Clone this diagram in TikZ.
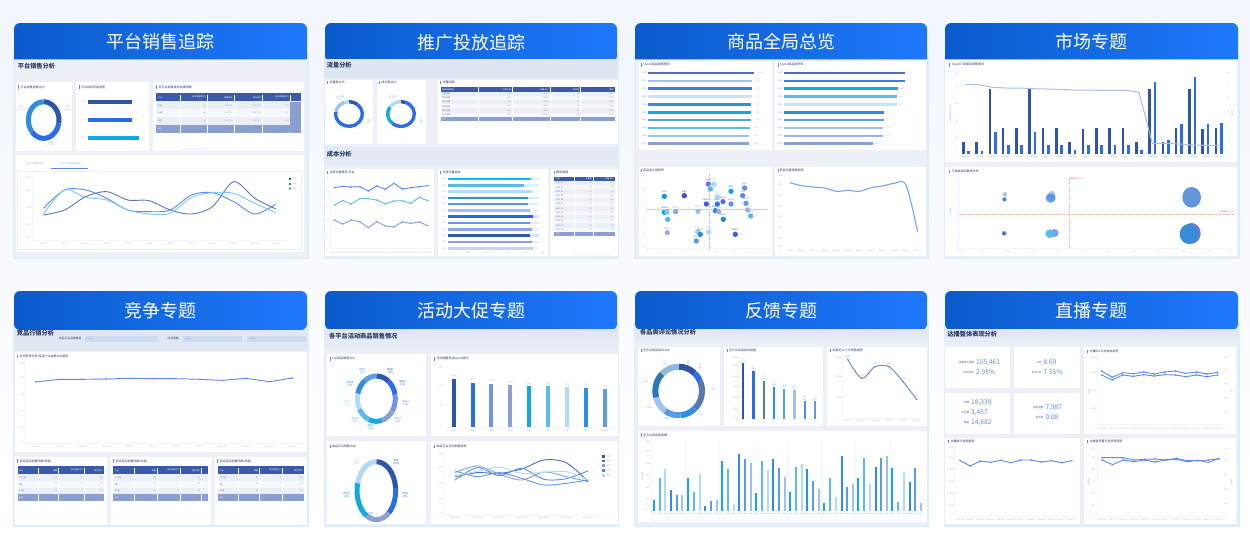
\documentclass[tikz,border=0pt]{standalone}
\usepackage{fontspec}
\setmainfont{Noto Sans CJK SC}
\usetikzlibrary{positioning,calc}
\definecolor{cDark}{HTML}{2F55A8}
\definecolor{cBlue}{HTML}{2A6DE8}
\definecolor{cPeri}{HTML}{6F92EC}
\definecolor{cGrey}{HTML}{8B9FD0}
\definecolor{cCyan}{HTML}{14A8E0}
\definecolor{cSky}{HTML}{5BBCEC}
\definecolor{cPale}{HTML}{B0DAF5}
\definecolor{cAzure}{HTML}{2E8FE0}
\definecolor{cSoft}{HTML}{5C9BE8}
\definecolor{cLav}{HTML}{A0C0EE}
\definecolor{cSteel}{HTML}{5C78A8}
\definecolor{cDeep}{HTML}{2A78B8}
\definecolor{cMist}{HTML}{8FB8D8}
\definecolor{cTrend}{HTML}{7090B8}
\definecolor{cInk}{HTML}{2C3A63}
\definecolor{cTick}{HTML}{A7B3CC}
\definecolor{cPanel}{HTML}{EDF1F7}
\definecolor{cTop}{HTML}{DFE6F2}
\definecolor{cEdge}{HTML}{EAEEF5}
\definecolor{cRule}{HTML}{F3F5FA}
\definecolor{cGlow}{HTML}{DCEEFB}
\definecolor{cHeadL}{HTML}{0A5BCB}
\definecolor{cHeadR}{HTML}{1F78FB}
\definecolor{cRowA}{HTML}{EBEFF7}
\definecolor{cRowB}{HTML}{F6F8FC}
\definecolor{cMeta}{HTML}{3A5BA8}
\definecolor{cSum}{HTML}{8B9FD0}
\definecolor{cLine}{HTML}{5C8AF0}
\definecolor{cGuide}{HTML}{A9BFF5}
\definecolor{cRedline}{HTML}{F9B4B4}
\definecolor{cBgA}{HTML}{F2F6FD}
\definecolor{cBgB}{HTML}{F7FAFF}
\tikzset{
  zoomview/.style={xscale=0.33333,yscale=0.33333},
  cardhead/.style={font=\fontsize{18}{20}\selectfont,text=white},
  sectitle/.style={font=\fontsize{6.2}{7}\selectfont\bfseries,text=cInk,anchor=west,inner sep=0},
  boxtitle/.style={font=\fontsize{3}{4}\selectfont,text=cInk,anchor=west,inner sep=0},
  ticktxt/.style={font=\fontsize{2}{2.6}\selectfont,text=cTick,inner sep=0,align=center},
  whitebox/.style={fill=white},
  kpi/.style={font=\fontsize{6.6}{8}\selectfont,text=cLine,inner sep=0,anchor=west},
  kpiname/.style={font=\fontsize{2.6}{3}\selectfont,text=cInk!80,inner sep=0,anchor=east},
}
\newcounter{lblc}
\newcommand{\lbl}[4][]{\stepcounter{lblc}\node[ticktxt,#1] (lbl\thelblc) at ({#2},{#3}) {#4};}
\newcommand{\boxtl}[3]{\fill[cLine] (#1,#2-5) rectangle (#1+2,#2+5);\stepcounter{lblc}\node[boxtitle] (lbl\thelblc) at (#1+6,#2) {#3};}
\newcommand{\sectl}[3]{\stepcounter{lblc}\node[sectitle] (lbl\thelblc) at (#1,#2) {#3};}
\newcommand{\wbox}[5][whitebox]{\fill[#1] (#2,#3) rectangle (#4,#5);}
\newcommand{\lbox}[4]{\fill[cEdge] (#1-3,#2-3) rectangle (#3+3,#4+3);\fill[white] (#1,#2) rectangle (#3,#4);}
\newcommand{\axv}[3]{\fill[cRule] (#1-1,#2) rectangle (#1+1,#3);}
\newcommand{\axh}[3]{\fill[cRule] (#2,#1-1) rectangle (#3,#1+1);}
% card frame: x1 x2 top bottom headbottom title
\newcommand{\cardflat}[6]{
  \fill[cGlow] (#1-1.5,#5-4) rectangle (#2+1.5,#4+1.5);
  \fill[cPanel] (#1,#5-4) rectangle (#2,#4);
  \shade[left color=cHeadL,right color=cHeadR] (#1,#5) [rounded corners=6pt] -- (#1,#3) -- (#2,#3) [sharp corners] -- (#2,#5) -- cycle;
  \stepcounter{lblc}\node[cardhead] (head\thelblc) at ({(#1+#2)/2},{(#3+#5)/2}) {#6};
}
\newcommand{\cardround}[6]{
  \fill[cGlow] (#1-1.5,#5-8) rectangle (#2+1.5,#4+1.5);
  \fill[cPanel] (#1,#5-8) rectangle (#2,#4);
  \shade[left color=cHeadL,right color=cHeadR,rounded corners=6pt] (#1,#3) rectangle (#2,#5);
  \stepcounter{lblc}\node[cardhead] (head\thelblc) at ({(#1+#2)/2},{(#3+#5)/2}) {#6};
}
% ring: cx cy rx ry width start/end/colour list
\newcommand{\ring}[6]{
  \foreach \a/\b/\c in {#6}{
    \draw[line width=#5pt,\c] ({#1+#3*cos(\a)},{#2+#4*sin(\a)}) arc[start angle=\a,end angle=\b,x radius=#3,y radius=#4];
  }
}
\newcommand{\serie}[4]{
  \gdef\pts{}
  \foreach \yy [count=\i from 0] in {#3}{\pgfmathsetmacro\xx{#1+#2*\i}\xdef\pts{\pts (\xx,\yy)}}
  \edef\tmpcmd{\noexpand\draw[line width=0.9pt,#4] plot coordinates {\pts};}\tmpcmd
}
\newcommand{\vbars}[3]{\foreach \x/\t/\c in {#3}{\fill[\c] ({\x-#1/2},\t) rectangle ({\x+#1/2},#2);}}
\newcommand{\hbars}[3]{\foreach \y/\e/\c in {#3}{\fill[\c] (#1,{\y-#2/2}) rectangle (\e,{\y+#2/2});}}
\newcommand{\monthlist}{01,02,03,04,05,06,07,08,09,10,11,12}
\newcommand{\xmonths}[3]{\foreach \m [count=\i from 0] in \monthlist {\lbl{#1+#2*\i}{#3}{2021-\m}}}
\newcommand{\yvals}[2]{\foreach \y/\t in {#2}{\lbl{#1}{\y}{\t}}}
% table: x1 x2 ytop headh rowh rownames firsthead
\newcommand{\datatable}[7]{
  \fill[cMeta] (#1,#3) rectangle (#2,#3+#4);
  \lbl[text=white,anchor=west]{#1+4}{#3+#4/2}{#7}
  \foreach \r [count=\i from 0] in {#6}{
    \pgfmathsetmacro\ya{#3+#4+#5*\i}
    \pgfmathsetmacro\yb{\ya+#5}
    \pgfmathparse{int(mod(\i,2))}
    \ifnum\pgfmathresult=0 \fill[cRowA] (#1,\ya) rectangle (#2,\yb); \else \fill[cRowB] (#1,\ya) rectangle (#2,\yb); \fi
    \lbl[text=cInk!70,anchor=west]{#1+4}{(\ya+\yb)/2}{\r}
    \xdef\sumtop{\yb}
  }
  \fill[cSum] (#1,\sumtop) rectangle (#2,\sumtop+#5);
  \lbl[text=white,anchor=west]{#1+4}{\sumtop+#5/2}{合计}
}
\newcommand{\tcols}[5]{
  \foreach \x/\h/\v in {#1}{
    \fill[white] (\x-0.8,#2-8) rectangle (\x+0.8,#3+#4*#5);
    \lbl[text=white,anchor=east]{\x-4}{#2}{\h}
    \foreach \k in {1,...,#5}{\lbl[text=cInk!60,anchor=east]{\x-4}{#3+#4*(\k-1)}{\v}}
  }
}
\begin{document}
\begin{tikzpicture}[x=1pt,y=-1pt]
\useasboundingbox (0,0) rectangle (1250,539);
\shade[top color=cBgA,middle color=cBgB,bottom color=white] (0,0) rectangle (1250,539);

\cardflat{14}{307}{23}{257}{59.3}{平台销售追踪}
\cardround{325}{617}{23}{257}{61.7}{推广投放追踪}
\cardflat{635}{927}{23}{257}{59.3}{商品全局总览}
\cardflat{945}{1238}{23}{257}{59.3}{市场专题}
\cardround{14}{307}{291}{525}{330}{竞争专题}
\cardround{325}{617}{291}{525}{330}{活动大促专题}
\cardround{635}{927}{291}{525}{330}{反馈专题}
\cardround{945}{1238}{291}{525}{330}{直播专题}

% card 1
\begin{scope}[shift={(0,10)},zoomview]
\sectl{53}{168}{平台销售分析}
\wbox{47}{217}{216}{423}
\wbox{227}{217}{448}{423}
\wbox{459}{217}{912}{423}
\wbox{47}{435}{912}{727}
\boxtl{55}{231}{平台销售金额占比}
\boxtl{237}{231}{平台目标完成进度}
\boxtl{469}{231}{各平台销售目标完成明细}
\ring{131}{330}{46}{55}{5}{-90/10/cDark,10/140/cBlue,140/270/cAzure}
\lbl{202}{294}{京东\\33.24\%}
\lbl{152}{401}{天猫\\33.35\%}
\lbl{65}{294}{淘宝\\33.30\%}
\hbars{263}{12}{275/396/cDark,330/396/cBlue,385/418/cCyan}
\foreach \y/\q/\p/\v in {275/Q1/406/95\%,330/Q2/406/96\%,385/Q3/428/96\%}{\lbl{252}{\y}{\q}\lbl{\p}{\y}{\v}}
\datatable{469}{903}{250}{24}{23.5}{京东,天猫,淘宝}{平台}
\tcols{{541}/{}/{},{622}/单日销售额(亿)/86,{702}/销售目标/44.77\%,{787}/目标完成/235.75\%,{871}/单日销售额(亿)/107}{262}{286}{23.5}{4}
\fill[cSum] (871,275) rectangle (903,367);
\fill[cRule] (545,415) rectangle (622,421);
\lbox{53}{486}{903}{717}
\lbl{105}{461}{全年大类销售额走势}
\lbl{209}{461}{平台近12月整体销售走势}
\fill[cLine] (154,474) rectangle (264,476);
\yvals{86}{504/4{,}000,544/3{,}000,594/2{,}000,644/1{,}000,684/0.00}
\axv{97}{495}{690}
\axh{690}{97}{860}
\xmonths{130}{63.4}{701}
\serie{130}{63.45}{615,600,560,545,570,572,600,612,590,515,565,597}{smooth,color=cDark!80!white}
\serie{130}{63.45}{595,540,540,565,600,605,600,555,548,575,612,582}{smooth,color=cLine}
\serie{130}{63.45}{612,540,562,570,600,612,610,562,548,550,580,608}{smooth,color=cSky!80!white}
\foreach \y/\c/\t in {507/cDark/京东,522/cBlue/天猫,536/cSky/淘宝}{\fill[\c] (866,\y-4) rectangle (874,\y+4);\lbl{884}{\y}{\t}}
\end{scope}

% card 2
\begin{scope}[shift={(315,10)},zoomview]
\fill[cTop] (30,148) rectangle (906,205);
\sectl{35}{165}{流量分析}
\wbox{30}{210}{175}{402}
\wbox{186}{210}{333}{402}
\wbox{369}{210}{908}{402}
\fill[cTop!60!cPanel] (30,412) rectangle (906,468);
\sectl{35}{433}{成本分析}
\wbox{30}{478}{358}{738}
\wbox{369}{478}{699}{738}
\wbox{709}{478}{908}{738}
\boxtl{37}{218}{流量数占比}
\boxtl{193}{218}{成交额占比}
\boxtl{376}{218}{流量明细}
\boxtl{37}{487}{月度流量费用-平台}
\boxtl{376}{487}{月度流量成本}
\boxtl{717}{487}{费用明细}
\ring{102}{312}{40}{37}{3.4}{-90/-50/cDark,-50/190/cBlue,190/250/cLav,250/270/cPale}
\ring{258}{312}{40}{37}{3.4}{-90/-70/cDark,-70/130/cBlue,130/215/cCyan,215/270/cPale}
\lbl{76}{263}{达人流量\\16.75\%}
\lbl{232}{263}{达人流量\\16.75\%}
\lbl{162}{335}{付费\\83\%}
\lbl{318}{335}{付费\\83\%}
\datatable{377}{900}{231}{14}{12.5}{付费流量,免费流量,自然流量,站内流量,站外流量,达人流量}{直接流量类型}
\tcols{{490}/{}/{},{592}/流量人数/325,{705}/流量占比/18.2\%,{797}/成交额/16,{900}/成本/8.2\%}{238}{251}{12.5}{7}
\yvals{38}{503/40,545/30,588/20,631/10,676/5,716/0}
\axv{46}{500}{716}
\axh{716}{46}{352}
\xmonths{58}{25.5}{727}
\serie{58}{25.5}{533,529,531,530,543,528,538,520,537,533,530,527}{color=cLine,mark=*,mark size=0.8pt}
\serie{58}{25.5}{585,572,582,566,566,570,582,573,572,580,562,572}{color=cSky,mark=*,mark size=0.8pt}
\serie{58}{25.5}{630,642,630,635,653,635,648,651,636,640,636,647}{color=cGrey,mark=*,mark size=0.8pt}
\foreach \y/\e/\c in {507/648/00BFFF,526/628/5BB8E8,545/650/B5DCF5,564/640/2F8FE0,582/640/4F9AE5,601/645/9CC0F0,620/655/2468F0,639/645/6F92EC,658/652/8AA6EE,677/645/3258A8,696/650/8B9FC8,715/655/C9D4EA}{
  \definecolor{barc}{HTML}{\c}
  \fill[barc!18] (400,\y-4) rectangle (672,\y+4);
  \fill[barc] (400,\y-4) rectangle (\e,\y+4);
  \lbl{388}{\y}{2021}
}
\foreach \x/\t in {404/0,460/100,517/200,575/300,633/400,682/500}{\lbl{\x}{729}{\t}}
\datatable{718}{900}{500}{13}{12.7}{2021-01,2021-02,2021-03,2021-04,2021-05,2021-06,2021-07,2021-08,2021-09,2021-10,2021-11,2021-12}{月份}
\tcols{{778}/{}/{},{835}/流量费/25,{900}/流量占比/30}{506.5}{519}{12.7}{13}
\fill[cRule] (778,732) rectangle (888,736);
\end{scope}

% card 3
\begin{scope}[shift={(625,10)},zoomview]
\wbox{42}{152}{441}{420}
\wbox{450}{152}{903}{420}
\lbox{42}{470}{441}{737}
\wbox{450}{470}{903}{737}
\boxtl{48}{165}{Top10商品销售情况}
\boxtl{458}{165}{Top10商品退货率}
\boxtl{48}{481}{商品波士顿矩阵}
\boxtl{458}{481}{商品月度销售趋势}
\hbars{70}{7.5}{189/387/cDark!85!white,212.5/381/cLav,236/380/cBlue!90!white,260/380/cPale!70,283/378/cAzure,307/378/cCyan,330/378/cSoft,354/375/cSky,378/373/cLav,401/372/cGrey}
\hbars{478}{7.5}{189/840/cDark!85!white,212.5/840/cBlue!90!white,236/820/cCyan,260/816/cSky,283/815/cPale!70,307/778/cAzure,330/778/cSoft,354/775/cLav,378/775/cPeri!70,401/745/cGrey}
\foreach \y/\n/\e/\f/\v/\w in {189/1/387/840/100\%/87\%,212.5/2/381/840/98\%/87\%,236/3/380/820/97\%/82\%,260/4/380/816/97\%/81\%,283/5/378/815/96\%/81\%,307/6/378/778/96\%/71\%,330/7/378/778/96\%/71\%,354/8/375/775/95\%/71\%,378/9/373/775/95\%/71\%,401/10/372/745/94\%/64\%}{
  \lbl{59}{\y}{商品\n}\lbl{467}{\y}{商品\n}\lbl{\e+20}{\y}{\v}\lbl{\f+12}{\y}{\w}
}
\yvals{56}{498/100,539/80,584/60,628/40,673/20,714/0}
\foreach \x/\t in {68/0,118/10,171/20,224/30,277/40,330/50,382/60,428/70}{\lbl{\x}{725}{\t}}
\axv{64}{495}{716}
\axh{716}{64}{436}
\foreach \v in {492,500,...,716}{\fill[cGuide] (253,\v) rectangle (255.4,\v+4.5);}
\foreach \v in {65,73,...,430}{\fill[cGuide] (\v,597) rectangle (\v+4.5,599.4);}
\foreach \x/\y/\c [count=\n] in {118/559/0E9BE0,178/557/3A50D8,250/522/6B70E0,267/523/A8D8F5,256/537/5AB8E8,318/544/0EA5E0,359/534/5C90E8,353/557/5C8AE0,277/560/A8D8F5,244/582/3A60E8,277/582/2A78E0,294/575/6868E0,318/582/5C90E8,363/580/5A9AE8,368/600/A5A8F5,377/618/50B8E8,271/602/2A88D8,281/605/A5A8F0,295/628/2A88D8,219/604/90C0F0,152/605/90A8F0,118/607/10A5E0,126/605/90C0F0,128/628/50B8E8,127/668/A5A8F5,218/666/A0C8F0,226/673/2A88D8,214/693/5A9AE8,251/666/A8D8F5,331/673/3A60E8}{
  \definecolor{dotc}{HTML}{\c}
  \fill[dotc] (\x,\y) circle[radius=8];
  \lbl[text=dotc]{\x}{\y-13}{商品\n}
}
\yvals{467}{498/800,525/700,557/600,590/500,621/400,653/300,685/200,711/100}
\xmonths{495}{34.8}{723}
\serie{495}{34.8}{518,527,531,534,544,541,544,533,528,520,525,665}{smooth,color=cLine!80!white,line width=1.1pt}
\end{scope}

% card 4
\begin{scope}[shift={(935,10)},zoomview]
\wbox{30}{150}{907}{456}
\wbox{30}{470}{907}{737}
\boxtl{43}{165}{Top20三级类目销售情况}
\boxtl{43}{485}{三级类目四象限分布}
\yvals{66}{187/50,230/40,281/30,331/20,383/10,426/0}
\yvals{878}{187/12,222/10,263/8,306/6,348/4,391/2,426/0}
\lbl[rotate=90]{46}{310}{类目销售额/退货率}
\lbl[rotate=90]{892}{310}{退货率}
\foreach \x/\a/\b in {85/395/422,125/395/422,165/236/366,204/355/406,244/355/406,284/235/365,324/355/406,364/355/406,404/395/421,444/357/406,484/355/406,524/355/406,564/355/406,604/395/420,644/236/216,684/395/390,723/353/342,764/238/202,803/358/342,843/355/338}{
  \fill[cDark] (\x-4,\a) rectangle (\x+4,433);
  \fill[cBlue] (\x+12,\b) rectangle (\x+20,433);
  \lbl{\x+8}{440}{三级类目}
}
\draw[cGrey!70!white,line width=1pt] (92,223) -- (132,224) -- (172,232) -- (212,234) -- (252,234) -- (292,236) -- (332,237) -- (372,238) -- (412,240) -- (452,240) -- (492,241) -- (532,241) -- (572,241) -- (612,247) -- (652,400) -- (692,400) -- (732,402) -- (772,405) -- (812,406) -- (852,407);
\yvals{66}{507/8,554/6,607/4,661/2,708/0}
\lbl[rotate=90]{46}{605}{销售额}
\foreach \x/\t in {78/0.0\%,143/1.0\%,219/2.0\%,294/3.0\%,370/4.0\%,445/5.0\%,521/6.0\%,596/7.0\%,672/8.0\%,747/9.0\%,822/10\%,888/11\%}{\lbl{\x}{725}{\t}}
\axv{70}{500}{716}
\axh{716}{70}{897}
\foreach \v in {500,508,...,712}{\fill[cRedline] (402,\v) rectangle (404.4,\v+4.5);}
\foreach \v in {68,76,...,892}{\fill[cRedline] (\v,611) rectangle (\v+4.5,613.4);}
\lbl[text=red!70,anchor=west]{407}{507}{最终线(-2.2\%)}
\lbl[text=red!70,anchor=east]{897}{605}{最终线(-3.1\%)}
\fill[cLav,opacity=.9] (210,553) ellipse[x radius=6,y radius=7];
\fill[cBlue,opacity=.9] (208,568) ellipse[x radius=6,y radius=6];
\fill[cLav,opacity=.9] (350,556) ellipse[x radius=11,y radius=14];
\fill[cSoft!80!cBlue,opacity=.9] (347,564) ellipse[x radius=15,y radius=14];
\fill[cSoft!85!gray] (770,562) ellipse[x radius=28,y radius=31];
\fill[cPeri] (208,670) ellipse[x radius=7,y radius=7];
\fill[cDark!70!cBlue] (206,670) ellipse[x radius=4,y radius=5];
\fill[cPeri,opacity=.9] (358,669) ellipse[x radius=13,y radius=12];
\fill[cSky] (345,671) ellipse[x radius=14,y radius=13];
\fill[cPeri!80!violet] (770,670) ellipse[x radius=27,y radius=31];
\fill[cAzure!90!gray] (762,672) ellipse[x radius=28,y radius=30];
\end{scope}

% card 5
\begin{scope}[shift={(0,280)},zoomview]
\shade[top color=cTop,bottom color=cTop!70!cPanel] (42,150) rectangle (921,215);
\sectl{50}{158}{竞品行销分析}
\lbl[font=\fontsize{2.8}{3}\selectfont,text=cInk,anchor=east]{245}{176}{商品行业品牌类目}
\fill[cTop!70!cLav] (255,168) rectangle (470,185);
\lbl{272}{176}{请选择}
\lbl[font=\fontsize{2.8}{3}\selectfont,text=cInk,anchor=east]{537}{176}{时间周期}
\fill[cTop!70!cLav] (548,168) rectangle (727,185);
\fill[cTop!70!cLav] (740,168) rectangle (918,185);
\lbl{565}{176}{请选择}
\lbl{758}{176}{请选择}
\lbox{45}{216}{921}{516}
\boxtl{52}{229}{市场竞争分析:商品行业品牌占比趋势}
\yvals{67}{251/200,294/160,344/120,394/80,444/40,486/0}
\axv{74}{245}{489}
\axh{489}{74}{915}
\xmonths{108}{70}{500}
\serie{108}{70}{306,298,298,297,295,296,296,298,301,295,305,294}{color=cLine,mark=*,mark size=0.8pt}
\wbox{45}{530}{321}{735}
\wbox{332}{530}{633}{735}
\wbox{645}{530}{921}{735}
\boxtl{52}{543}{商品竞品销售明细-低端}
\boxtl{340}{543}{商品竞品销售明细-中端}
\boxtl{652}{543}{商品竞品销售明细-高端}
\datatable{53}{312}{559}{24}{20}{2-3.9星,4星,4.5星}{行业}
\tcols{{115}/{}/{},{176}/销量/32,{252}/累计销售(万)/3,{312}/成交均价/95}{571}{592}{20}{4}
\datatable{340}{625}{559}{24}{20}{2-3.9星,4星,4.5星}{行业}
\tcols{{402}/{}/{},{472}/销量/48,{541}/累计销售(万)/5,{605}/成交均价/20}{571}{592}{20}{4}
\datatable{654}{912}{559}{24}{20}{2-3.9星,4星,4.5星}{行业}
\tcols{{715}/{}/{},{779}/销量/16,{847}/累计销售(万)/4,{912}/成交均价/30}{571}{592}{20}{4}
\end{scope}

% card 6
\begin{scope}[shift={(315,280)},zoomview]
\shade[top color=cTop,bottom color=cPanel] (28,148) rectangle (908,222);
\sectl{42}{168}{各平台活动商品销售情况}
\wbox{35}{222}{333}{468}
\wbox{348}{222}{908}{468}
\wbox{35}{484}{333}{732}
\wbox{348}{484}{908}{732}
\boxtl{45}{237}{Top商品销售占比}
\boxtl{358}{237}{活动销售商品top10情况}
\boxtl{45}{500}{单品平台销售占比}
\boxtl{358}{500}{单品平台活动销售趋势}
\ring{184}{356}{57}{68}{5}{-90/-50/cDark,-50/-10/cBlue,-10/33/cPeri,33/73/cGrey,73/113/cCyan,113/153/cSky,153/193/cPale,193/233/cAzure,233/270/cSoft}
\foreach \x/\y/\t/\c in {226/273/商品1\\11\%/cDark,263/310/商品2\\11\%/cBlue,272/369/商品3\\12\%/cPeri,248/420/商品4\\10\%/cGrey,167/440/商品5\\11\%/cCyan,120/420/商品6\\11\%/cSky,97/369/商品7\\11\%/cPale,105/312/商品8\\12\%/cAzure,142/274/商品9\\10\%/cSoft}{\lbl[text=\c,font=\fontsize{2.6}{3}\selectfont]{\x}{\y}{\t}}
\ring{184}{632}{58}{87}{5}{-90/-5/cDark,-5/50/cBlue,50/120/cGrey,120/195/cCyan,195/270/cPale}
\foreach \x/\y/\t/\c in {244/547/京东\\22\%/cDark,270/645/天猫\\21\%/cBlue,167/705/淘宝\\19\%/cGrey,95/645/拼多多\\18\%/cCyan,125/547/其他\\20\%/cPale}{\lbl[text=\c,font=\fontsize{2.6}{3}\selectfont]{\x}{\y}{\t}}
\yvals{378}{262/150,316/120,378/80,434/0}
\axh{441}{390}{898}
\vbars{12}{441}{416/296/cDark,473/308/cBlue,529/311/cPeri,586/316/cGrey,643/318/cCyan,700/319/cSky,757/321/cPale,814/323/cAzure,870/328/cSoft}
\foreach \x/\y/\v [count=\n] in {416/288/114万,473/300/107万,529/303/105万,586/308/101万,643/310/99万,700/311/99万,757/313/97万,814/315/96万,870/320/93万}{\lbl{\x}{\y}{\v}\lbl{\x}{451}{商品\n}}
\yvals{376}{525/400,564/300,610/200,658/100,697/0}
\axv{386}{518}{705}
\axh{705}{386}{850}
\foreach \x/\t in {420/2021-10-01,487/2021-10-02,553/2021-10-03,620/2021-10-04,687/2021-10-05,753/2021-10-06,820/2021-10-07}{\lbl{\x}{714}{\t}}
\serie{420}{66.7}{590,578,580,567,540,548,605}{smooth,color=cDark!85!white}
\serie{420}{66.7}{600,563,587,565,598,596,572}{smooth,color=cBlue!80!white}
\serie{420}{66.7}{578,558,583,600,576,590,605}{smooth,color=cGrey}
\serie{420}{66.7}{572,590,578,595,615,610,600}{smooth,color=cSoft}
\serie{420}{66.7}{588,574,562,580,577,575,600}{smooth,color=cPale}
\foreach \y/\c/\t in {529/cDark/京东,543/cBlue/天猫,557/cGrey/淘宝,572/cAzure/拼多多,587/cPale/其他}{\fill[\c] (861,\y-4) rectangle (869,\y+4);\lbl{880}{\y}{\t}}
\end{scope}

% card 7
\begin{scope}[shift={(625,280)},zoomview]
\shade[top color=cTop,bottom color=cPanel] (28,148) rectangle (908,200);
\sectl{45}{157}{各品类评论情况分析}
\wbox{39}{200}{285}{438}
\lbox{297}{200}{594}{438}
\wbox{607}{200}{905}{438}
\wbox{39}{453}{905}{727}
\boxtl{48}{212}{全平台商品类目占比}
\boxtl{306}{212}{全平台商品类目销量}
\boxtl{616}{212}{品类近12个月销售趋势}
\boxtl{48}{465}{全平台商品类明细}
\ring{161}{333}{70}{73}{6}{-90/-47/cDark,-47/-25/cBlue,-25/45/cSteel,45/85/cAzure,85/125/cSoft,125/165/cLav,165/225/cDeep,225/270/cMist}
\foreach \x/\y/\t in {191/245/A\\868,226/259/B\\852,265/322/C\\3{,}620,224/400/D\\1{,}775,125/414/E\\1{,}601,73/380/F\\1{,}520,62/301/G\\2{,}601,118/247/H\\1{,}351}{\lbl[text=cPeri]{\x}{\y}{\t}}
\yvals{332}{233/3{,}000,258/2{,}500,290/2{,}000,322/1{,}500,354/1{,}000,386/500,411/0}
\axv{340}{226}{417}
\axh{417}{340}{584}
\vbars{7}{417}{354/250/cDark,385/273/cBlue,416/304/cSteel,447/320/cAzure,477/327/cSoft,508/331/cLav,539/363/cBlue!80!white,570/364/cPeri}
\foreach \x/\y/\t/\b in {354/241/C\\2{,}620/C,385/264/G\\2{,}601/G,416/295/D\\1{,}775/D,447/311/F\\1{,}539/F,477/318/E\\1{,}501/E,508/322/H\\1{,}351/H,539/354/B\\852/B,570/355/A\\850/A}{\lbl[text=cPeri]{\x}{\y}{\t}\lbl{\x}{424}{\b}}
\yvals{642}{233/3{,}000,290/2{,}000,354/1{,}000,411/0}
\axv{652}{226}{414}
\axh{414}{652}{895}
\foreach \x/\t in {668/2021-12,710/2022-01,750/2022-02,792/2022-03,834/2022-04,875/2022-05}{\lbl{\x}{423}{\t}}
\draw[color=cTrend,line width=1pt,mark=*,mark size=0.8pt] plot[smooth] coordinates {(668,238) (710,295) (750,260) (792,260) (834,305) (875,358)};
\foreach \x/\y/\t in {668/230/2{,}801,710/287/1{,}917,750/252/2{,}412,792/252/2{,}389,834/297/1{,}652,875/350/1{,}372}{\lbl[text=cPeri]{\x}{\y}{\t}}
\yvals{68}{486/1{,}400,515/1{,}200,551/1{,}000,587/800,623/600,659/400,688/0}
\lbl[rotate=90]{52}{590}{商品销量}
\axv{78}{480}{722}
\axh{722}{78}{896}
\axh{699}{78}{896}
\foreach \x in {181,283,385,488,590,692,795}{\axv{\x}{480}{722}}
\foreach \gx/\pa/\pb/\pc/\pd/\pe/\pf/\n in {86/660/595/568/630/646/644/A,189/595/636/582/678/664/660/B,291/543/566/672/522/537/549/C,393/638/542/570/537/564/592/D,495/637/560/551/566/604/627/E,598/668/593/650/528/622/612/F,700/593/533/612/560/534/527/G,802/564/665/578/607/565/669/H}{
  \vbars{6}{693}{\gx/\pa/cCyan,\gx+17.5/\pb/cSky,\gx+35/\pc/cPale,\gx+52/\pd/cAzure,\gx+69/\pe/cSoft,\gx+86/\pf/cLav}
  \lbl{\gx+43}{712}{\n}
  \foreach \o/\t in {0/京东,17.5/天猫,35/淘宝,52/拼多多,69/抖音,86/其他}{\lbl[font=\fontsize{1.6}{2}\selectfont]{\gx+\o}{701}{\t}}
}
\end{scope}

% card 8
\begin{scope}[shift={(935,280)},zoomview]
\shade[top color=cTop,bottom color=cPanel] (28,148) rectangle (908,202);
\sectl{37}{162}{达播整体表现分析}
\wbox{30}{202}{225}{325}
\wbox{238}{202}{434}{325}
\wbox{30}{338}{225}{461}
\wbox{238}{338}{434}{461}
\wbox{447}{202}{903}{461}
\lbox{30}{474}{434}{732}
\wbox{447}{474}{903}{732}
\foreach \x/\y/\n/\v in {118/247/达播成交金额/155{,}461,118/277/成交环比/2.95\%,320/247/ROI/8.69,320/277/ROI环比/7.55\%,103/368/花费/18{,}339,103/397/坑位费/3{,}457,103/427/佣金/14{,}882,326/382/退货金额/7{,}987,326/412/退货率/0.08}{
  \stepcounter{lblc}\node[kpiname] (kn\thelblc) at (\x,\y) {\n};
  \node[kpi] (kv\thelblc) at (\x+5,\y) {\v};
}
\boxtl{457}{214}{达播ROI与总成本趋势}
\boxtl{40}{485}{达播成交金额趋势}
\boxtl{457}{485}{达播退货量与退货率趋势}
\yvals{475}{233/10{,}000,280/8{,}000,333/6{,}000,386/4{,}000,434/0}
\yvals{873}{233/1{,}000,270/800,312/600,356/400,398/200,434/0}
\lbl[rotate=90]{463}{333}{总成本}
\lbl[rotate=90]{890}{333}{ROI}
\axv{487}{226}{434}
\axh{434}{487}{865}
\xmonths{502}{31.6}{447}
\serie{500}{31.6}{273,292,278,281,276,282,276,273,280,276,282,277}{color=cLine,mark=*,mark size=0.8pt}
\serie{500}{31.6}{285,300,285,289,284,288,284,285,290,285,290,285}{color=cLine,mark=*,mark size=0.8pt}
\yvals{48}{505/6{,}000,533/5{,}000,569/4{,}000,605/3{,}000,641/2{,}000,677/1{,}000,706/0}
\axv{58}{498}{708}
\axh{708}{58}{424}
\xmonths{75}{30.5}{719}
\serie{75}{30.5}{541,558,543,547,541,548,540,540,546,542,548,542}{color=cLine,mark=*,mark size=0.8pt}
\yvals{475}{505/600,533/500,569/400,605/300,641/200,677/100,706/0}
\yvals{873}{505/0.1,541/0.08,584/0.06,628/0.04,670/0.02,706/0}
\lbl[rotate=90]{461}{608}{退货量}
\lbl[rotate=90]{890}{606}{退货率}
\axv{487}{498}{708}
\axh{708}{487}{865}
\xmonths{502}{31.6}{719}
\serie{501}{31.9}{533,533,533,540,538,537,540,535,542,542,540,536}{color=cLine,mark=*,mark size=0.8pt}
\serie{501}{31.9}{540,554,540,545,540,546,540,538,545,541,547,536}{color=cLine,mark=*,mark size=0.8pt}
\end{scope}
\end{tikzpicture}
\end{document}
